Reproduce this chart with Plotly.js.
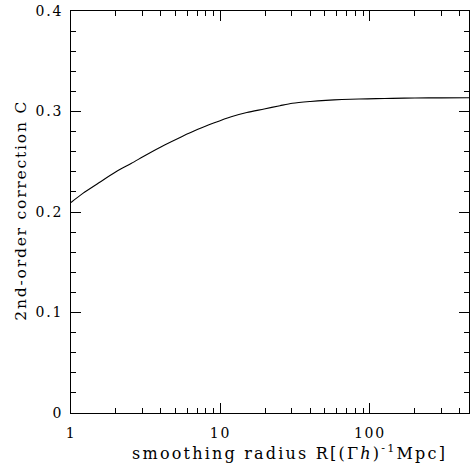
<!DOCTYPE html>
<html><head><meta charset="utf-8">
<script src="https://cdn.plot.ly/plotly-3.0.1.min.js"></script>
<style>html,body{margin:0;padding:0;background:#fff}#chart{width:470px;height:470px}
[data-index="0"] .annotation-text{letter-spacing:2.2px}
[data-index="1"] .annotation-text{letter-spacing:1.8px}
.xtick text,.ytick text{letter-spacing:1.8px}</style>
</head><body><div id="chart"></div>
<script>
const radius = [1, 1.2, 1.52, 2.0, 2.54, 3.2, 4.23, 5.5, 7.06, 9.0, 11.8, 15, 19.6, 25, 30.3, 40, 50.7, 65, 84.5, 110, 141, 200, 300, 460];
const correction = [0.2095, 0.2185, 0.2286, 0.2400, 0.2485, 0.2570, 0.2667, 0.2750, 0.2823, 0.2885, 0.2948, 0.2990, 0.3025, 0.3058, 0.3082, 0.3100, 0.3111, 0.3119, 0.3124, 0.3128, 0.3131, 0.3134, 0.3136, 0.3137];
const xMajor = [1, 10, 100];
const xMajorLabels = ['1', '10', '100'];
const xMinor = [2,3,4,5,6,7,8,9,20,30,40,50,60,70,80,90,200,300,400];
const yMajor = [0, 0.1, 0.2, 0.3, 0.4];
const yMajorLabels = ['0', '0.1', '0.2', '0.3', '0.4'];
const xTitle = 'smoothing radius R[(Γ<i>h</i>)<sup>-1</sup>Mpc]';
const yTitle = '2nd-order correction C';

const font = {family: 'DejaVu Serif, serif', size: 14, color: '#000'};
const xtfont = {family: 'DejaVu Serif, serif', size: 16, color: '#000'};
const ytfont = {family: 'DejaVu Serif, serif', size: 15.5, color: '#000'};
const xr = [0, Math.log10(460)];
const yr = [0, 0.4];
function xax(side, labels) {
  return {
    type: 'log', range: xr, side: side,
    tickmode: 'array', tickvals: xMajor, ticktext: xMajorLabels, showticklabels: labels,
    ticks: 'inside', ticklen: 10, tickwidth: 1, tickcolor: '#000', ticklabelstandoff: 7,
    minor: {tickmode: 'array', tickvals: xMinor, ticks: 'inside', ticklen: 5, tickwidth: 1, tickcolor: '#000', showgrid: false},
    showline: true, linecolor: '#000', linewidth: 1,
    showgrid: false, zeroline: false, tickfont: font, fixedrange: true
  };
}
function yax(side, labels) {
  return {
    range: yr, side: side,
    tickmode: 'array', tickvals: yMajor, ticktext: yMajorLabels, showticklabels: labels,
    ticks: 'inside', ticklen: 10, tickwidth: 1, tickcolor: '#000', ticklabelstandoff: 4,
    minor: {dtick: 0.02, ticks: 'inside', ticklen: 5, tickwidth: 1, tickcolor: '#000', showgrid: false},
    showline: true, linecolor: '#000', linewidth: 1,
    showgrid: false, zeroline: false, tickfont: font, fixedrange: true
  };
}
const layout = {
  width: 470, height: 470,
  margin: {l: 71, r: 1, t: 11, b: 57},
  paper_bgcolor: '#fff', plot_bgcolor: '#fff',
  showlegend: false, font: font,
  xaxis: xax('bottom', true),
  yaxis: yax('left', true),
  xaxis2: Object.assign(xax('top', false), {overlaying: 'x', anchor: 'y'}),
  yaxis2: Object.assign(yax('right', false), {overlaying: 'y', anchor: 'x'}),
  annotations: [
    {text: xTitle, xref: 'paper', yref: 'paper', x: 0.55, y: -0.068, xanchor: 'center', yanchor: 'top', showarrow: false, font: xtfont},
    {text: yTitle, xref: 'paper', yref: 'paper', x: -0.126, y: 0.505, xanchor: 'center', yanchor: 'middle', textangle: -90, showarrow: false, font: ytfont}
  ]
};
Plotly.newPlot('chart', [
  {x: radius, y: correction, type: 'scatter', mode: 'lines', line: {color: '#000', width: 1.1, shape: 'spline', smoothing: 0.8}, hoverinfo: 'skip'},
  {x: radius, y: correction, xaxis: 'x2', yaxis: 'y2', type: 'scatter', mode: 'lines', line: {color: 'rgba(0,0,0,0)', width: 0}, hoverinfo: 'skip'}
], layout, {staticPlot: true, displayModeBar: false});
</script></body></html>
